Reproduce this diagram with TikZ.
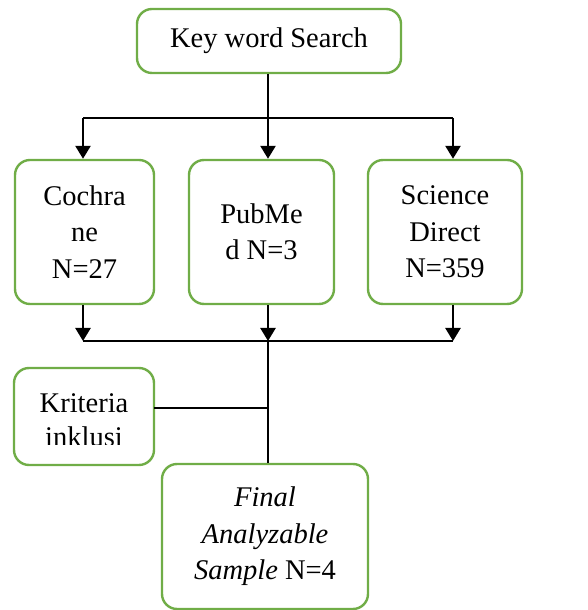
\documentclass[tikz,border=0pt]{standalone}
\usepackage{fontspec}
\setmainfont{Liberation Serif}
\usetikzlibrary{arrows.meta}
\definecolor{boxgreen}{RGB}{112,173,71}

\begin{document}
\begin{tikzpicture}[
    x=1pt, y=1pt,
    box/.style={draw=boxgreen, line width=2.4pt, rounded corners=15pt, fill=white,
                align=center, inner sep=0pt, font=\fontsize{28.5}{36.5}\selectfont},
    line/.style={line width=2.5pt},
    arrow/.style={line width=2.5pt, -{Triangle[width=15pt, length=13pt]}}
  ]
  \useasboundingbox (0,0) rectangle (587,610);
  % Pencarian
  \node[box, minimum width=264pt, minimum height=64pt] (key) at (269,569) {Key word Search};
  % Database
  \node[box, minimum width=139pt, minimum height=144pt] (coch) at (84.5,378) {Cochra\\ne\\N=27};
  \node[box, minimum width=145pt, minimum height=144pt] (pub) at (261.5,378) {PubMe\\d N=3};
  \node[box, minimum width=154pt, minimum height=144pt] (sci) at (445,378) {Science\\Direct\\N=359};
  % Kriteria
  \node[box, minimum width=140pt, minimum height=97pt] (krit) at (84,193.5) {};
  \begin{scope}
    \clip (14,165) rectangle (154,242);
    \node[inner sep=0pt, align=center, font=\fontsize{28.5}{34}\selectfont] (kritText) at (84,190) {Kriteria\\inklusi};
  \end{scope}
  % Sampel akhir
  \node[box, minimum width=206pt, minimum height=145pt] (final) at (265,73.5)
    {\textit{Final}\\\textit{Analyzable}\\\textit{Sample} N=4};
  % Titik cabang
  \coordinate (split) at (268,492);
  \coordinate (splitL) at (83,492);
  \coordinate (splitR) at (453,492);
  \coordinate (merge) at (268,269);
  \coordinate (mergeL) at (83,269);
  \coordinate (mergeR) at (453,269);
  \coordinate (kritIn) at (154,202);
  % Garis
  \draw[line] (key.south -| split) -- (split);
  \draw[line] (splitL) -- (splitR);
  \draw[arrow] (splitL) -- (splitL |- coch.north);
  \draw[arrow] (split) -- (split |- pub.north);
  \draw[arrow] (splitR) -- (splitR |- sci.north);
  \draw[arrow] (mergeL |- coch.south) -- (mergeL);
  \draw[arrow] (merge |- pub.south) -- (merge);
  \draw[arrow] (mergeR |- sci.south) -- (mergeR);
  \draw[line] (mergeL) -- (mergeR);
  \draw[line] (merge) -- (merge |- final.north);
  \draw[line] (kritIn) -- (merge |- kritIn);
\end{tikzpicture}
\end{document}
